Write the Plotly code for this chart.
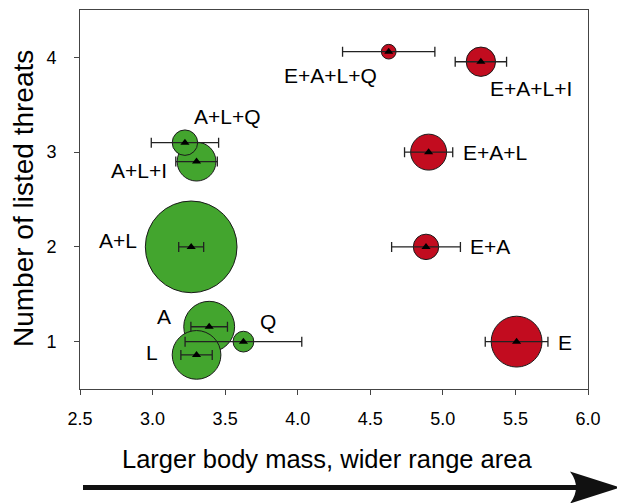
import plotly.graph_objects as go

# ---- data ----
labels   = ["A+L+I", "A+L+Q", "A", "L", "Q", "A+L", "E+A+L+Q", "E+A+L+I", "E+A+L", "E+A", "E"]
x_mean   = [3.303, 3.223, 3.390, 3.303, 3.626, 3.266, 4.627, 5.262, 4.902, 4.884, 5.508]
y_mean   = [2.90, 3.10, 1.157, 0.86, 1.00, 2.00, 4.06, 3.954, 3.00, 2.00, 1.00]
x_err    = [0.143, 0.232, 0.126, 0.108, 0.402, 0.086, 0.318, 0.177, 0.166, 0.237, 0.216]
n_species = [7, 3, 12, 11, 2, 39, 1, 4, 6, 3, 12]
group    = ["no E", "no E", "no E", "no E", "no E", "no E", "E", "E", "E", "E", "E"]

x_ticks = [2.5, 3.0, 3.5, 4.0, 4.5, 5.0, 5.5, 6.0]
y_ticks = [1, 2, 3, 4]
x_title = "Larger body mass, wider range area"
y_title = "Number of listed threats"

# label offsets (pixels) relative to each bubble centre
label_dx = [-58, 43, -45, -45, 25, -73, -58, 50, 66, 64, 48]
label_dy = [-9, 26, 10, 2, 20, 6, -24, -27, 0, 0, -1]

GREEN = "#43a52e"
RED = "#c20c1f"
colors = [RED if g == "E" else GREEN for g in group]

FONT = "Liberation Sans, Arial, sans-serif"

OFF = 8  # page body margin of the html page
PAGE_W, PAGE_H = 625, 503
W, H = PAGE_W - OFF, PAGE_H - OFF
ML, MR, MT, MB = 80 - OFF, 37, 10 - OFF, 114

PW, PH = W - ML - MR, H - MT - MB

def px(xp):
    # page pixel -> paper coordinate
    return (xp - OFF - ML) / PW

def py(yp):
    return (H - MB - (yp - OFF)) / PH

d_max = 91.7
sizeref = 2.0 * max(n_species) / d_max ** 2

fig = go.Figure()

fig.add_trace(go.Scatter(
    x=x_mean, y=y_mean, mode="markers",
    marker=dict(size=n_species, sizemode="area", sizeref=sizeref,
                color=colors, opacity=1,
                line=dict(color="#1a1a1a", width=1)),
    hoverinfo="text", text=labels, showlegend=False,
))

fig.add_trace(go.Scatter(
    x=x_mean, y=y_mean, mode="markers",
    marker=dict(symbol="triangle-up", size=8, color="black"),
    error_x=dict(type="data", array=x_err, symmetric=True,
                 color="#222222", thickness=1.3, width=5),
    hoverinfo="skip", showlegend=False,
))

for lab, x, y, dx, dy in zip(labels, x_mean, y_mean, label_dx, label_dy):
    fig.add_annotation(x=x, y=y, xref="x", yref="y", text=lab, showarrow=False,
                       xshift=dx, yshift=dy, xanchor="center", yanchor="middle",
                       font=dict(family=FONT, size=21, color="black"))

# axis titles as annotations
fig.add_annotation(x=px(326.7), y=py(459), xref="paper", yref="paper", text=x_title,
                   showarrow=False, xanchor="center", yanchor="middle",
                   font=dict(family=FONT, size=25.5, color="black"))
fig.add_annotation(x=px(23), y=py(199), xref="paper", yref="paper", text=y_title,
                   showarrow=False, textangle=-90, xanchor="center", yanchor="middle",
                   font=dict(family=FONT, size=28, color="black"))

# bottom arrow
fig.add_shape(type="line", xref="paper", yref="paper",
              x0=px(83), y0=py(487.5), x1=px(580), y1=py(487.5),
              line=dict(color="#111111", width=5))
path = (f"M {px(570)},{py(471.5)} L {px(620)},{py(487.5)} L {px(570)},{py(503.5)} "
        f"Q {px(582)},{py(487.5)} {px(570)},{py(471.5)} Z")
fig.add_shape(type="path", xref="paper", yref="paper", path=path,
              fillcolor="#111111", line=dict(color="#111111", width=0))

axis_common = dict(showline=True, mirror=True, linecolor="#444444", linewidth=1,
                   ticks="outside", ticklen=5, tickcolor="#444444", tickwidth=1,
                   showgrid=False, zeroline=False,
                   tickfont=dict(family=FONT, size=18, color="black"))

fig.update_xaxes(range=[2.5, 6.0], tickvals=x_ticks,
                 ticktext=[f"{v:.1f}" for v in x_ticks], ticklabelstandoff=8, **axis_common)
fig.update_yaxes(range=[0.5, 4.5], tickvals=y_ticks,
                 ticktext=[str(v) for v in y_ticks], ticklabelstandoff=14, **axis_common)

fig.update_layout(width=W, height=H, margin=dict(l=ML, r=MR, t=MT, b=MB),
                  paper_bgcolor="white", plot_bgcolor="white",
                  font=dict(family=FONT, color="black"))

fig.write_html("out.html")
